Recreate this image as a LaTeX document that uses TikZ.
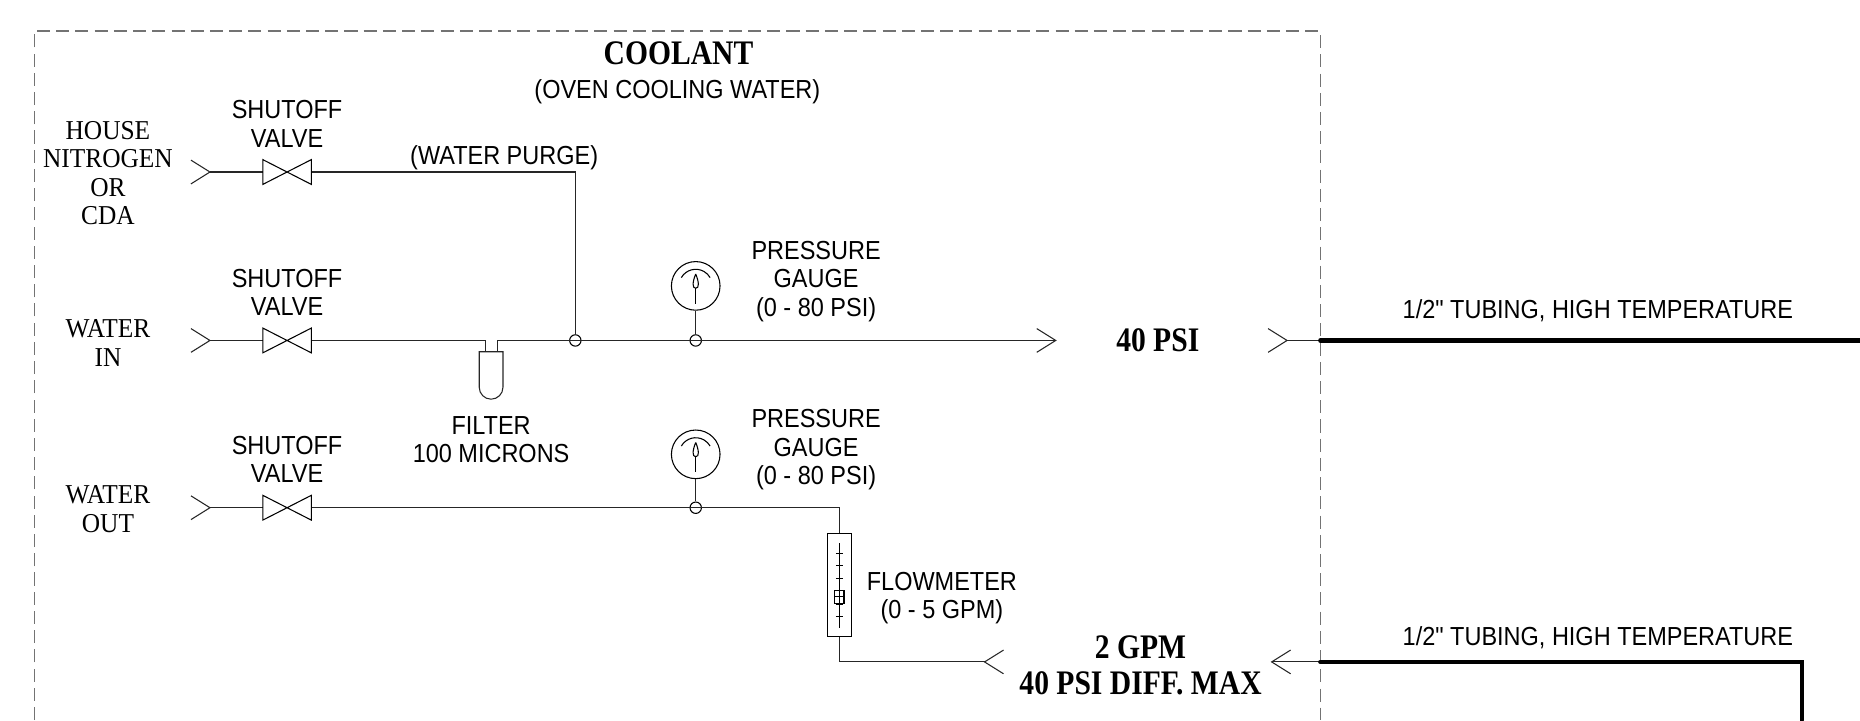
\documentclass[tikz,border=0pt]{standalone}
\usepackage{fontspec}
\setmainfont{Liberation Serif}[FakeStretch=0.93]
\newfontfamily\narrowsans{Liberation Sans}[FakeStretch=0.9]
\newfontfamily\boldserif{Liberation Serif}[FakeStretch=0.86]
\usepackage{tikz}
\usetikzlibrary{positioning}
\tikzset{
    pipe/.style={draw=black!85, line width=0.45pt},
    hose/.style={draw=black, line width=1.8pt, line cap=round},
    border/.style={draw=black!55, line width=0.6pt, dash pattern=on 5.5pt off 2.6pt},
    valve/.style={rectangle, minimum width=20pt, minimum height=10pt, inner sep=0pt},
    gauge/.style={circle, draw, line width=0.45pt, minimum size=20.5pt, inner sep=0pt},
    tee/.style={circle, draw, line width=0.45pt, minimum size=4.8pt, inner sep=0pt},
    meter/.style={rectangle, draw, line width=0.45pt, minimum width=10pt, minimum height=43.5pt, inner sep=0pt},
    tag/.style={font=\narrowsans\fontsize{11}{12}\selectfont, align=center, inner sep=0pt},
    stag/.style={font=\fontsize{11.5}{12}\selectfont, align=center, inner sep=0pt},
    btag/.style={font=\boldserif\bfseries\fontsize{14.5}{15}\selectfont, align=center, inner sep=0pt},
    chev/.pic={\draw[pipe] (-16,-10) -- (0,0) -- (-16,10);},
}
\begin{document}
\begin{tikzpicture}[x=0.5pt, y=-0.5pt, line width=0.45pt]
    \useasboundingbox (0,0) rectangle (1568,607);
    \draw[border] (29,607) -- (29,26) -- (1113,26) -- (1113,607);

    \node[btag] (title) at (572,45) {COOLANT};
    \node[tag] (sub) at (571,77) {(OVEN COOLING WATER)};

    \coordinate (inN) at (177,145);
    \coordinate (inI) at (177,287);
    \coordinate (inO) at (177,428);
    \node[valve] (vN) at (242,145) {};
    \node[valve] (vI) at (242,287) {};
    \node[valve] (vO) at (242,428) {};
    \node[stag] (lN) at (91,146) {HOUSE\\NITROGEN\\OR\\CDA};
    \node[stag] (lI) at (91,289) {WATER\\IN};
    \node[stag] (lO) at (91,429) {WATER\\OUT};
    \node[tag, above=5pt of vN] (sN) {SHUTOFF\\VALVE};
    \node[tag, above=5pt of vI] (sI) {SHUTOFF\\VALVE};
    \node[tag, above=5pt of vO] (sO) {SHUTOFF\\VALVE};
    \node[tag] (purge) at (425,133) {(WATER PURGE)};

    \node[tee] (tee1) at (485,287) {};
    \node[tee] (tee2) at (586.5,287) {};
    \node[tee] (tee3) at (586.5,428) {};
    \node[gauge] (g1) at (586.5,241) {};
    \node[gauge] (g2) at (586.5,383) {};
    \node[tag] (pg1) at (688,237) {PRESSURE\\GAUGE\\(0 - 80 PSI)};
    \node[tag] (pg2) at (688,379) {PRESSURE\\GAUGE\\(0 - 80 PSI)};

    \coordinate (filt) at (414,336.5);
    \node[tag, below=7pt of filt] (fl) {FILTER\\100 MICRONS};
    \node[meter] (fm) at (707.5,493) {};
    \node[tag] (fml) at (794,504) {FLOWMETER\\(0 - 5 GPM)};

    \coordinate (out1) at (890,287);
    \coordinate (ret1) at (830,558);
    \node[btag] (psi) at (976,287) {40 PSI};
    \node[btag] (gpm) at (961.5,561) {2 GPM\\40 PSI DIFF. MAX};

    \coordinate (out2) at (1085,287);
    \coordinate (wall1) at (1113,287);
    \coordinate (end1) at (1568,287);
    \coordinate (ret2) at (1072,558);
    \coordinate (wall2) at (1113,558);
    \coordinate (bend) at (1519,558);
    \coordinate (end2) at (1519,607);
    \node[tag] (tb1) at (1347,262) {1/2" TUBING, HIGH TEMPERATURE};
    \node[tag] (tb2) at (1347,538) {1/2" TUBING, HIGH TEMPERATURE};

    \draw[pipe] (inN) -- (vN.west);
    \draw[pipe] (vN.east) -- (485,145) -- (tee1);
    \draw[pipe] (inI) -- (vI.west);
    \draw[pipe] (vI.east) -- (409.5,287) -- (409.5,296.5);
    \draw[pipe] (419.5,296.5) -- (419.5,287) -- (tee1.center) -- (tee2.center) -- (out1);
    \draw[pipe] (404,296.5) -- (404,326.5) arc[start angle=180, end angle=0, radius=10] -- (424,296.5) -- cycle;
    \draw[pipe] (g1) -- (tee2);
    \draw[pipe] (inO) -- (vO.west);
    \draw[pipe] (vO.east) -- (tee3.center) -- (707.5,428) -- (fm.north);
    \draw[pipe] (g2) -- (tee3);
    \draw[pipe] (fm.south) -- (707.5,558) -- (ret1);
    \draw[pipe] (out2) -- (wall1);
    \draw[hose] (wall1) -- (end1);
    \draw[pipe] (ret2) -- (wall2);
    \draw[hose] (wall2) -- (bend) -- (end2);

    \foreach \c in {inN,inI,inO,out1,out2}
        \pic at (\c) {chev};
    \foreach \c in {ret1,ret2}
        \pic[rotate=180] at (\c) {chev};
    \foreach \v in {vN,vI,vO}
        \draw (\v.north west) -- (\v.south east) -- (\v.north east) -- (\v.south west) -- cycle;
    \foreach \g in {g1,g2} {
        \begin{scope}[shift={(\g.center)}]
            \draw (210:14) arc[start angle=210, end angle=330, radius=14];
            \draw (0,-10) .. controls (-2.7,-3.5) and (-3.2,2) .. (0,2) .. controls (3.2,2) and (2.7,-3.5) .. (0,-10);
            \draw (0,2) -- (0,15);
        \end{scope}
    }
    \begin{scope}[shift={(fm.center)}]
        \draw (0,-35) -- (0,36);
        \foreach \t in {-26.5,-16,-5.5,16.5,27}
            \draw (-2.8,\t) -- (2.8,\t);
        \draw (-4,4.5) rectangle (4,15.5);
        \draw (-4,10) -- (4,10);
    \end{scope}
\end{tikzpicture}
\end{document}
